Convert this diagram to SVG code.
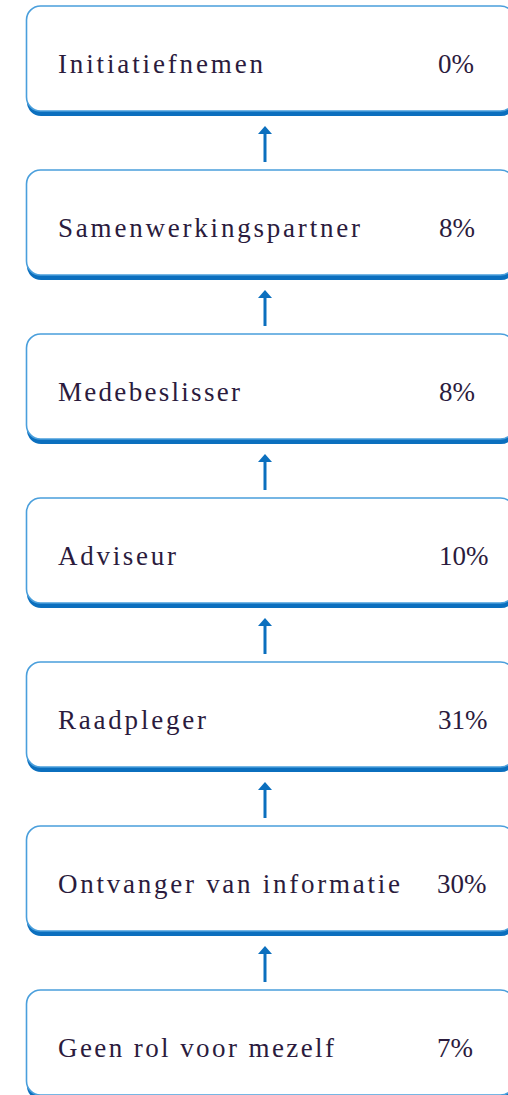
<svg xmlns="http://www.w3.org/2000/svg" width="508" height="1095" viewBox="0 0 508 1095">
<defs>
<style>
.sh{fill:#0b6fbe;}
.bx{fill:#ffffff;stroke:#4a9fdc;stroke-width:1.6;}
text{font-family:'Liberation Serif','Times New Roman',Times,serif;font-size:27px;fill:#2b1b3d;}
.ar{stroke:#0b6fbe;stroke-width:3;fill:none;}
.ah{fill:#0b6fbe;}
</style>
</defs>
<rect width="508" height="1095" fill="#ffffff"/>
<g id="connectors">
<g><line class="ar" x1="265" y1="162" x2="265" y2="132"/><polygon class="ah" points="265,126 258,134 272,134"/></g>
<g><line class="ar" x1="265" y1="326" x2="265" y2="296"/><polygon class="ah" points="265,290 258,298 272,298"/></g>
<g><line class="ar" x1="265" y1="490" x2="265" y2="460"/><polygon class="ah" points="265,454 258,462 272,462"/></g>
<g><line class="ar" x1="265" y1="654" x2="265" y2="624"/><polygon class="ah" points="265,618 258,626 272,626"/></g>
<g><line class="ar" x1="265" y1="818" x2="265" y2="788"/><polygon class="ah" points="265,782 258,790 272,790"/></g>
<g><line class="ar" x1="265" y1="982" x2="265" y2="952"/><polygon class="ah" points="265,946 258,954 272,954"/></g>
</g>
<g font-family="Liberation Serif, serif">
<g id="node-initiatiefnemen">
<rect class="sh" x="27" y="11" width="488" height="105" rx="14"/>
<rect class="bx" x="26.5" y="6" width="488" height="105" rx="14"/>
<text x="58" y="73" textLength="205" lengthAdjust="spacing">Initiatiefnemen</text>
<text x="438" y="73">0%</text>
</g>
<g id="node-samenwerkingspartner">
<rect class="sh" x="27" y="175" width="488" height="105" rx="14"/>
<rect class="bx" x="26.5" y="170" width="488" height="105" rx="14"/>
<text x="58" y="237" textLength="302" lengthAdjust="spacing">Samenwerkingspartner</text>
<text x="439" y="237">8%</text>
</g>
<g id="node-medebeslisser">
<rect class="sh" x="27" y="339" width="488" height="105" rx="14"/>
<rect class="bx" x="26.5" y="334" width="488" height="105" rx="14"/>
<text x="58" y="401" textLength="182" lengthAdjust="spacing">Medebeslisser</text>
<text x="439" y="401">8%</text>
</g>
<g id="node-adviseur">
<rect class="sh" x="27" y="503" width="488" height="105" rx="14"/>
<rect class="bx" x="26.5" y="498" width="488" height="105" rx="14"/>
<text x="58" y="565" textLength="118" lengthAdjust="spacing">Adviseur</text>
<text x="439" y="565">10%</text>
</g>
<g id="node-raadpleger">
<rect class="sh" x="27" y="667" width="488" height="105" rx="14"/>
<rect class="bx" x="26.5" y="662" width="488" height="105" rx="14"/>
<text x="58" y="729" textLength="148" lengthAdjust="spacing">Raadpleger</text>
<text x="438" y="729">31%</text>
</g>
<g id="node-ontvanger">
<rect class="sh" x="27" y="831" width="488" height="105" rx="14"/>
<rect class="bx" x="26.5" y="826" width="488" height="105" rx="14"/>
<text x="58" y="893" textLength="342" lengthAdjust="spacing">Ontvanger van informatie</text>
<text x="437" y="893">30%</text>
</g>
<g id="node-geen-rol">
<rect class="sh" x="27" y="995" width="488" height="105" rx="14"/>
<rect class="bx" x="26.5" y="990" width="488" height="105" rx="14"/>
<text x="58" y="1057" textLength="276" lengthAdjust="spacing">Geen rol voor mezelf</text>
<text x="437" y="1057">7%</text>
</g>
</g>
</svg>
